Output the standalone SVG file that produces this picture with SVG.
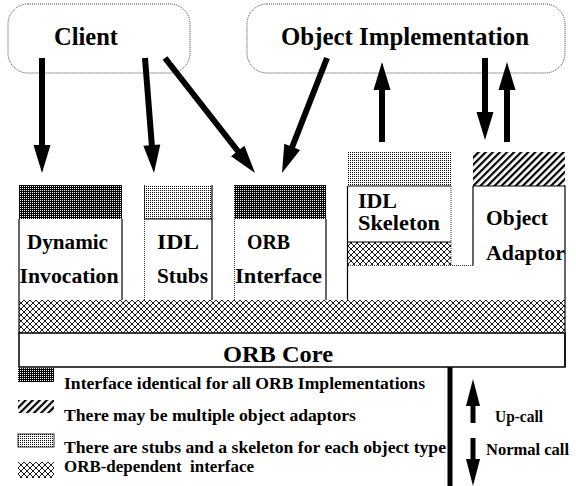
<svg xmlns="http://www.w3.org/2000/svg" width="576" height="486" viewBox="0 0 576 486">
<defs>
<pattern id="dark" width="2" height="2" patternUnits="userSpaceOnUse"><rect width="2" height="2" fill="#000"/><rect width="1" height="1" fill="#fff"/></pattern>
<pattern id="dots" width="2" height="2" patternUnits="userSpaceOnUse"><rect width="2" height="2" fill="#fff"/><rect width="1" height="1" fill="#000"/></pattern>
<pattern id="hatch" width="5" height="5" patternUnits="userSpaceOnUse" patternTransform="rotate(45)"><rect width="5" height="5" fill="#fff"/><rect width="2.2" height="5" fill="#000"/></pattern>
<pattern id="cross" width="6" height="6" patternUnits="userSpaceOnUse"><rect width="6" height="6" fill="#fff"/><path d="M-1,-1 L7,7 M7,-1 L-1,7" stroke="#000" stroke-width="0.9"/></pattern>
<marker id="ah" markerUnits="userSpaceOnUse" markerWidth="28" markerHeight="17" refX="14" refY="8.5" orient="auto" overflow="visible"><path d="M0,0 L28,8.5 L0,17 z" fill="#000"/></marker>
<marker id="ahs" markerUnits="userSpaceOnUse" markerWidth="27" markerHeight="14" refX="13" refY="7" orient="auto" overflow="visible"><path d="M0,0 L27,7 L0,14 z" fill="#000"/></marker>
<style>
text{font-family:"Liberation Serif","Times New Roman",serif;font-weight:bold;fill:#000}
.big{font-size:25px}
.lbl{font-size:21px}
.leg{font-size:17px;white-space:pre}
.bubble{fill:#fff;stroke:#444;stroke-width:1;stroke-dasharray:1 1}
.solid{stroke:#000;stroke-width:1.2;fill:none}
.dotted{stroke:#333;stroke-width:1;stroke-dasharray:1 1;fill:none}
.arrow{stroke:#000;stroke-width:6;fill:none;marker-end:url(#ah)}
.arrows{stroke:#000;stroke-width:5;fill:none;marker-end:url(#ahs)}
</style>
</defs>
<rect width="576" height="486" fill="#fff"/>

<g id="client">
<rect class="bubble" x="8" y="4" width="182" height="69" rx="20"/>
<text class="big" x="54" y="45" textLength="64" lengthAdjust="spacingAndGlyphs">Client</text>
</g>
<g id="object-implementation">
<rect class="bubble" x="247" y="4" width="318" height="69" rx="20"/>
<text class="big" x="281" y="45" textLength="248" lengthAdjust="spacingAndGlyphs">Object Implementation</text>
</g>

<g id="orb-band">
<rect x="19" y="300" width="546" height="33" fill="url(#cross)"/>
</g>
<g id="orb-core">
<rect x="19" y="333" width="546" height="34" fill="#fff" stroke="#000" stroke-width="1.5"/>
<text x="223" y="362" font-size="24" textLength="110" lengthAdjust="spacingAndGlyphs">ORB Core</text>
</g>

<g id="dynamic-invocation">
<rect x="19" y="185" width="103" height="34" fill="url(#dark)"/>
<line class="solid" x1="19" y1="219" x2="19" y2="333"/>
<line class="solid" x1="122" y1="219" x2="122" y2="300"/>
<text class="lbl" x="27" y="249" textLength="81" lengthAdjust="spacingAndGlyphs">Dynamic</text>
<text class="lbl" x="19.5" y="283" textLength="99" lengthAdjust="spacingAndGlyphs">Invocation</text>
</g>

<g id="idl-stubs">
<rect x="144" y="185" width="68" height="34" fill="url(#dots)"/>
<line class="solid" x1="144" y1="219" x2="212" y2="219"/>
<line class="dotted" x1="144.5" y1="185" x2="144.5" y2="300"/>
<line class="solid" x1="212" y1="185" x2="212" y2="300"/>
<text class="lbl" x="157" y="249" textLength="42" lengthAdjust="spacingAndGlyphs">IDL</text>
<text class="lbl" x="157" y="283" textLength="51" lengthAdjust="spacingAndGlyphs">Stubs</text>
</g>

<g id="orb-interface">
<rect x="234" y="185" width="92" height="34" fill="url(#dark)"/>
<line class="dotted" x1="234.5" y1="219" x2="234.5" y2="300"/>
<line class="solid" x1="326" y1="219" x2="326" y2="300"/>
<text class="lbl" x="247" y="249" textLength="43" lengthAdjust="spacingAndGlyphs">ORB</text>
<text class="lbl" x="235" y="283" textLength="87" lengthAdjust="spacingAndGlyphs">Interface</text>
</g>

<g id="idl-skeleton">
<rect x="348" y="152" width="103" height="34" fill="url(#dots)"/>
<rect x="348" y="242" width="103" height="23" fill="url(#cross)"/>
<line class="solid" x1="348" y1="186" x2="451" y2="186"/>
<line class="solid" x1="348" y1="242" x2="451" y2="242"/>
<line class="solid" x1="347.5" y1="186" x2="347.5" y2="300"/>
<line class="dotted" x1="451" y1="186" x2="451" y2="265"/>
<line class="dotted" x1="348" y1="265.5" x2="473" y2="265.5"/>
<text class="lbl" x="358" y="208" textLength="39" lengthAdjust="spacingAndGlyphs">IDL</text>
<text class="lbl" x="358" y="230" textLength="82" lengthAdjust="spacingAndGlyphs">Skeleton</text>
</g>

<g id="object-adaptor">
<rect x="473" y="152" width="92" height="34" fill="url(#hatch)"/>
<line class="solid" x1="473" y1="186" x2="565" y2="186"/>
<line class="solid" x1="473" y1="186" x2="473" y2="265"/>
<line class="solid" x1="565" y1="186" x2="565" y2="367"/>
<text class="lbl" x="486" y="225" textLength="62" lengthAdjust="spacingAndGlyphs">Object</text>
<text class="lbl" x="486" y="260" textLength="79" lengthAdjust="spacingAndGlyphs">Adaptor</text>
</g>

<g id="connectors">
<line class="arrow" x1="42" y1="58" x2="42" y2="159"/>
<line class="arrow" x1="145" y1="58" x2="152.9" y2="159"/>
<line class="arrow" x1="165" y1="58" x2="246.4" y2="162"/>
<line class="arrow" x1="327" y1="58" x2="287.1" y2="160"/>
<line class="arrow" x1="382" y1="142" x2="382" y2="76"/>
<line class="arrow" x1="485" y1="58" x2="485" y2="126"/>
<line class="arrow" x1="507" y1="142" x2="507" y2="76"/>
</g>

<g id="legend">
<rect x="18" y="368" width="36" height="14" fill="url(#dark)"/>
<text class="leg" x="64" y="389" textLength="361" lengthAdjust="spacingAndGlyphs">Interface identical for all ORB Implementations</text>
<rect x="18" y="400" width="36" height="13" fill="url(#hatch)"/>
<text class="leg" x="64" y="421" textLength="292" lengthAdjust="spacingAndGlyphs">There may be multiple object adaptors</text>
<rect x="18" y="434" width="36" height="13" fill="url(#dots)" stroke="#000" stroke-width="0.8"/>
<text class="leg" x="64" y="453" textLength="382" lengthAdjust="spacingAndGlyphs">There are stubs and a skeleton for each object type</text>
<rect x="18" y="462" width="36" height="16" fill="url(#cross)"/>
<text class="leg" x="64" y="472" textLength="190" lengthAdjust="spacingAndGlyphs">ORB-dependent  interface</text>
<line x1="450" y1="367" x2="450" y2="486" stroke="#000" stroke-width="5"/>
<line class="arrows" x1="473" y1="423" x2="473" y2="393"/>
<text class="leg" x="495" y="422" textLength="48" lengthAdjust="spacingAndGlyphs">Up-call</text>
<line class="arrows" x1="473" y1="438" x2="473" y2="472"/>
<text class="leg" x="486" y="455" textLength="83" lengthAdjust="spacingAndGlyphs">Normal call</text>
</g>
</svg>
